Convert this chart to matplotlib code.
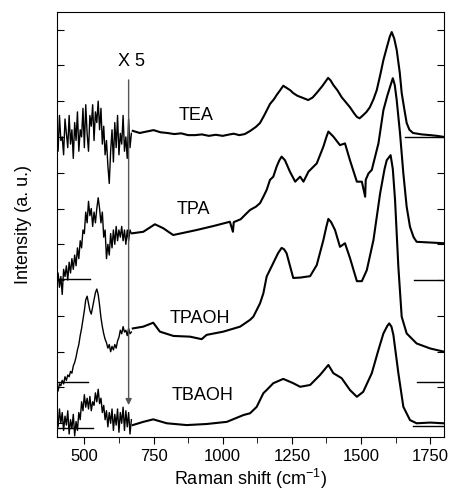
import numpy as np
import matplotlib.pyplot as plt

plt.rcParams['font.family'] = ['Liberation Sans', 'DejaVu Sans']

# low-shift part, shown x5 (sampled every 5 cm-1 from 400 to 670)
x5_shift = np.arange(400, 675, 5)

tea_x5 = [8.3, 7.6, 8.6, 7.9, 8.0, 7.5, 8.5, 8.1, 7.7, 8.6, 7.8, 8.2, 7.4, 8.4, 7.9,
          8.7, 7.6, 8.2, 8.0, 8.8, 7.7, 8.9, 8.1, 7.6, 8.6, 8.3, 8.9, 7.9, 8.7, 8.4,
          9.0, 8.2, 8.8, 7.8, 8.3, 7.5, 7.9, 7.2, 6.7, 7.6, 8.2, 7.3, 8.4, 7.7, 8.6,
          7.5, 8.1, 7.8, 8.6, 7.6, 8.0, 7.4, 8.5, 7.7, 8.1]
tpa_x5 = [3.9, 4.2, 3.8, 4.1, 3.6, 4.3, 4.1, 4.4, 4.0, 4.5, 4.2, 4.6, 4.3, 4.7, 4.4,
          4.9, 4.6, 5.1, 4.9, 5.4, 5.3, 5.9, 5.6, 6.2, 5.8, 6.0, 5.5, 5.9, 5.6, 6.0,
          6.3, 6.0, 5.6, 5.9, 5.2, 5.4, 4.6, 5.0, 4.7, 5.3, 4.9, 5.4, 5.0, 5.5, 5.1,
          5.4, 5.2, 5.5, 5.1, 5.4, 5.0, 5.4, 5.1, 5.4, 5.3]
tpaoh_x5 = [1.0, 0.9, 1.1, 1.05, 1.2, 1.1, 1.3, 1.2, 1.35, 1.3, 1.45, 1.4, 1.6, 1.7, 1.85,
            2.05, 2.2, 2.45, 2.65, 2.9, 3.15, 3.45, 3.55, 3.35, 3.15, 3.05, 3.25, 3.45, 3.65, 3.75,
            3.6, 3.3, 2.95, 2.7, 2.5, 2.35, 2.25, 2.1, 2.2, 2.0, 2.15, 2.05, 2.2, 2.1, 2.3,
            2.4, 2.6, 2.5, 2.7, 2.55, 2.6, 2.45, 2.65, 2.5, 2.55]
tbaoh_x5 = [0.2, -0.1, 0.4, 0.0, 0.3, -0.2, 0.2, -0.05, 0.35, -0.3, 0.1, -0.15, 0.25, -0.35, 0.05,
            -0.2, 0.3, 0.1, 0.6, 0.35, 0.8, 0.45, 0.7, 0.4, 0.75, 0.35, 0.6, 0.5, 0.85, 0.6,
            0.95, 0.55, 0.7, 0.3, 0.5, 0.1, 0.35, -0.1, 0.3, 0.0, 0.4, -0.2, 0.25, -0.05, 0.4,
            -0.25, 0.3, 0.0, 0.45, -0.2, 0.35, -0.1, 0.3, -0.3, 0.1]

# rest of the spectra
tea_shift = [675, 700, 725, 750, 775, 800, 825, 850, 875, 900, 925, 950, 975, 1000, 1025,
             1040, 1060, 1080, 1100, 1120, 1135, 1150, 1171, 1185, 1195, 1210, 1219, 1231, 1245,
             1254, 1270, 1290, 1309, 1325, 1340, 1360, 1372, 1381, 1390, 1400, 1415, 1430, 1445,
             1460, 1475, 1485, 1495, 1508, 1520, 1532, 1545, 1557, 1570, 1581, 1595, 1604, 1611,
             1620, 1629, 1640, 1647, 1656, 1665, 1675, 1688, 1720, 1750, 1775, 1800]
tea_int = [8.17, 8.11, 8.15, 8.19, 8.13, 8.11, 8.08, 8.1, 8.05, 8.05, 8.07, 8.03, 8.06, 8.03, 8.07,
           8.09, 8.05, 8.08, 8.17, 8.28, 8.39, 8.6, 8.92, 9.05, 9.17, 9.33, 9.43, 9.37, 9.3,
           9.23, 9.15, 9.09, 9.03, 9.1, 9.23, 9.42, 9.55, 9.65, 9.58, 9.45, 9.3, 9.11, 8.97,
           8.83, 8.66, 8.56, 8.52, 8.61, 8.7, 8.83, 9.05, 9.31, 9.75, 10.15, 10.55, 10.8, 10.93,
           10.75, 10.43, 9.8, 9.23, 8.8, 8.39, 8.2, 8.11, 8.07, 8.05, 8.03, 8.0]

tpa_shift = [675, 713, 755, 785, 821, 858, 906, 966, 1026, 1037, 1040, 1065, 1087, 1099, 1120,
             1135, 1147, 1159, 1171, 1183, 1195, 1205, 1213, 1225, 1243, 1262, 1280, 1292, 1310, 1340,
             1364, 1375, 1382, 1400, 1424, 1442, 1460, 1485, 1503, 1515, 1517, 1527, 1539, 1563, 1581,
             1595, 1605, 1615, 1622, 1629, 1641, 1653, 1665, 1677, 1690, 1701, 1750, 1800]
tpa_int = [5.31, 5.35, 5.56, 5.45, 5.26, 5.32, 5.40, 5.51, 5.63, 5.35, 5.62, 5.7, 5.87, 5.96, 6.05,
           6.15, 6.33, 6.52, 6.80, 6.89, 7.17, 7.35, 7.45, 7.35, 7.03, 6.75, 6.89, 6.75, 7.03, 7.26,
           7.73, 8.0, 8.15, 8.01, 7.77, 7.82, 7.35, 6.75, 6.75, 6.33, 6.8, 6.98, 7.08, 7.82, 8.75,
           9.15, 9.40, 9.64, 9.45, 9.03, 8.10, 6.98, 6.05, 5.49, 5.2, 5.07, 5.05, 5.03]

tpaoh_shift = [675, 713, 749, 773, 822, 882, 924, 942, 1002, 1063, 1099, 1111, 1135, 1147, 1159,
               1183, 1200, 1213, 1222, 1231, 1255, 1280, 1316, 1340, 1364, 1375, 1382, 1392, 1406,
               1424, 1442, 1460, 1485, 1503, 1521, 1545, 1569, 1585, 1593, 1607, 1615, 1623, 1635,
               1647, 1665, 1701, 1750, 1800]
tpaoh_int = [2.65, 2.70, 2.81, 2.56, 2.44, 2.42, 2.35, 2.47, 2.56, 2.70, 2.89, 2.98, 3.35, 3.63, 4.10,
             4.48, 4.75, 4.90, 4.86, 4.75, 4.06, 4.07, 4.11, 4.42, 5.12, 5.5, 5.71, 5.62, 5.40,
             4.93, 5.03, 4.62, 3.97, 3.97, 4.28, 5.12, 6.42, 7.1, 7.35, 7.49, 7.1, 6.24, 4.37,
             2.98, 2.51, 2.23, 2.09, 2.0]

tbaoh_shift = [675, 713, 749, 798, 870, 942, 1015, 1075, 1099, 1123, 1147, 1159, 1183, 1219, 1255,
               1280, 1316, 1352, 1382, 1400, 1430, 1460, 1485, 1508, 1539, 1563, 1581, 1595, 1602,
               1610, 1617, 1635, 1653, 1677, 1701, 1750, 1800]
tbaoh_int = [-0.05, 0.04, 0.11, 0.0, -0.05, -0.02, 0.04, 0.23, 0.28, 0.46, 0.84, 0.93, 1.12, 1.24, 1.12,
             1.02, 1.07, 1.35, 1.63, 1.40, 1.26, 0.93, 0.74, 0.88, 1.40, 2.05, 2.51, 2.72, 2.79,
             2.7, 2.47, 1.40, 0.46, 0.09, 0.0, 0.02, 0.0]

labels = ['TEA', 'TPA', 'TPAOH', 'TBAOH']
label_pos = [(840, 8.6), (834, 5.96), (810, 2.94), (816, 0.78)]

# zero-level markers (x start, x end, level)
left_marks = [(400, 520, 4.03), (400, 513, 1.14), (400, 532, -0.14)]
right_marks = [(1659, 1800, 8.0), (1690, 1800, 3.99), (1701, 1800, 1.15), (1689, 1800, -0.07)]

fig = plt.figure(figsize=(4.51, 4.98), dpi=100)
ax = fig.add_axes([0.1257, 0.1225, 0.8588, 0.8534])

spectra = [(tea_x5, tea_shift, tea_int), (tpa_x5, tpa_shift, tpa_int),
           (tpaoh_x5, tpaoh_shift, tpaoh_int), (tbaoh_x5, tbaoh_shift, tbaoh_int)]
for low, xs, ys in spectra:
    ax.plot(x5_shift, low, color='black', lw=1.0)
    ax.plot(xs, ys, color='black', lw=1.5)

for x0, x1, y in left_marks + right_marks:
    ax.plot([x0, x1], [y, y], color='black', lw=1.0)

for name, (x, y) in zip(labels, label_pos):
    ax.text(x, y, name, fontsize=13, va='center', ha='left')

ax.annotate('', xy=(660, 0.43), xytext=(660, 9.67),
            arrowprops=dict(arrowstyle='-|>', color='#555555', lw=1.0, mutation_scale=9))
ax.text(672, 10.1, 'X 5', fontsize=13, ha='center', va='center')

ax.set_xlim(400, 1800)
ax.set_ylim(-0.383, 11.49)
ax.set_xticks([500, 750, 1000, 1250, 1500, 1750])
ax.set_xticks(np.arange(625, 1800, 250), minor=True)
ax.set_yticks(np.arange(0, 12))
ax.set_yticklabels([])
ax.tick_params(axis='x', direction='out', length=5, labelsize=12)
ax.tick_params(axis='x', which='minor', direction='out', length=4)
ax.tick_params(axis='y', direction='in', length=5, left=True, right=True)
ax.set_xlabel('Raman shift (cm$^{\\mathregular{-1}}$)', fontsize=13, labelpad=2)
ax.set_ylabel('Intensity (a. u.)', fontsize=13, labelpad=14)

fig.savefig('out.png', dpi=100)
